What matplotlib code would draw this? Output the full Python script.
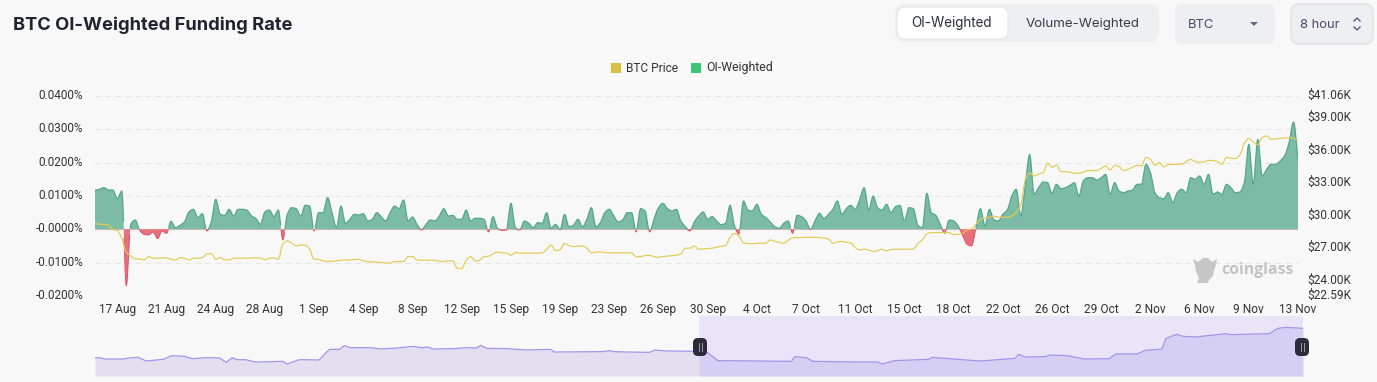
import matplotlib
matplotlib.use("Agg")
import matplotlib.pyplot as plt
import numpy as np
from matplotlib.patches import FancyBboxPatch, Polygon, Rectangle
from matplotlib.transforms import ScaledTranslation

# funding rate in %, one value per 8 hour period
funding_rate = np.array([
    117, 120, 125, 118, 118, 92, 115, -170, 15, 28,
    -3, -15, -17, -8, -28, -5, -12, 24, 5, 12,
    22, 52, 60, 35, 47, -5, 22, 90, 45, 42,
    60, 40, 60, 60, 57, 40, 32, 15, 52, 58,
    38, 58, -32, 45, 65, 62, 40, 72, 70, -5,
    50, 50, 95, 50, 5, 70, 18, 30, 45, 43,
    47, 25, 30, 50, 38, 25, 50, 70, 62, 88,
    25, 37, 15, -2, 15, 28, 25, 40, 62, 40,
    42, 30, 30, 58, 25, 33, 33, 30, -8, 38,
    3, -3, -2, 78, 5, -2, 25, 18, 5, 20,
    18, 50, 3, 15, -1, 45, 8, 12, 30, 8,
    30, 65, 8, 20, 50, 60, 40, 22, 28, 50,
    50, -8, 62, 55, -8, 30, 65, 78, 62, 55,
    60, 25, 8, -5, 22, 40, 52, 30, 38, 25,
    14, 18, 72, 10, -14, 85, 58, 55, 75, 45,
    35, 22, 8, 3, 18, 25, -12, 42, 38, 25,
    -1, 25, 48, 32, 45, 60, 85, 45, 62, 72,
    60, 90, 125, 58, 100, 65, 58, 75, 50, 68,
    72, 25, 65, 62, 12, 5, 108, 50, 42, 15,
    -12, 28, 25, 10, -18, -45, -50, 5, 62, 10,
    60, 28, 25, 45, 58, 100, 120, 40, 130, 225,
    105, 125, 142, 140, 108, 135, 122, 125, 132, 140,
    100, 145, 155, 155, 148, 155, 165, 105, 140, 115,
    110, 115, 118, 135, 135, 195, 170, 110, 95, 92,
    110, 80, 110, 120, 110, 155, 150, 160, 135, 165,
    105, 112, 105, 135, 125, 110, 112, 140, 255, 135,
    270, 160, 180, 195, 195, 205, 220, 260, 322, 210,
]) / 10000

# BTC price in $K
btc_price = np.array([
    29.31, 29.21, 29.21, 29.15, 28.72, 28.63, 27.92, 26.60, 26.29, 26.01,
    26.01, 25.92, 26.23, 26.08, 26.08, 26.11, 26.11, 25.98, 25.92, 26.14,
    26.08, 25.92, 26.08, 26.08, 26.14, 26.48, 26.51, 25.98, 26.14, 25.92,
    25.92, 26.08, 26.08, 26.08, 26.08, 26.08, 26.11, 26.11, 25.92, 26.08,
    26.11, 25.98, 27.40, 27.68, 27.46, 27.21, 27.31, 27.28, 26.91, 25.98,
    25.98, 25.83, 25.80, 25.80, 25.83, 25.89, 25.92, 25.92, 25.95, 25.98,
    25.83, 25.77, 25.74, 25.74, 25.68, 25.65, 25.61, 25.77, 25.77, 25.77,
    26.23, 26.23, 25.92, 25.89, 25.89, 25.89, 25.89, 25.80, 25.77, 25.83,
    25.83, 25.15, 25.12, 25.92, 26.23, 25.83, 25.89, 26.23, 26.26, 26.48,
    26.66, 26.57, 26.57, 26.35, 26.60, 26.54, 26.54, 26.54, 26.54, 26.54,
    26.57, 26.91, 27.28, 26.78, 26.88, 27.43, 27.25, 27.15, 27.21, 27.21,
    27.00, 26.57, 26.63, 26.66, 26.60, 26.57, 26.57, 26.57, 26.57, 26.57,
    26.57, 26.23, 26.23, 26.32, 26.35, 26.23, 26.17, 26.23, 26.26, 26.32,
    26.35, 26.48, 27.00, 27.00, 27.21, 26.91, 26.94, 26.97, 27.00, 27.09,
    27.18, 27.25, 28.01, 28.35, 28.14, 27.49, 27.43, 27.40, 27.46, 27.46,
    27.46, 27.77, 27.64, 27.55, 27.46, 27.74, 27.98, 27.98, 27.98, 28.01,
    28.01, 28.01, 27.98, 27.95, 27.86, 27.46, 27.58, 27.64, 27.55, 27.49,
    27.06, 26.84, 26.91, 26.84, 26.69, 26.78, 26.91, 26.75, 26.88, 26.91,
    26.91, 26.91, 26.91, 26.94, 27.46, 27.77, 28.32, 28.44, 28.44, 28.44,
    28.47, 28.44, 28.26, 28.29, 28.38, 28.69, 28.78, 29.24, 29.67, 29.80,
    29.86, 29.95, 29.89, 29.86, 29.86, 29.98, 30.29, 31.00, 33.31, 33.95,
    33.67, 33.86, 33.98, 34.84, 34.48, 34.69, 34.08, 34.08, 34.01, 33.92,
    33.92, 34.05, 34.17, 34.17, 34.17, 34.38, 34.60, 34.23, 34.66, 34.54,
    34.17, 34.29, 34.48, 34.66, 34.60, 35.40, 35.21, 34.66, 34.91, 34.51,
    34.72, 34.75, 34.75, 34.78, 35.00, 35.21, 35.00, 34.97, 34.97, 35.12,
    35.09, 35.00, 34.75, 35.40, 35.31, 35.28, 35.62, 36.69, 37.12, 36.81,
    36.54, 37.24, 37.37, 37.06, 37.09, 37.15, 37.18, 37.21, 37.15, 37.00,
])

x_labels = [
    "17 Aug", "21 Aug", "24 Aug", "28 Aug", "1 Sep", "4 Sep", "8 Sep", "12 Sep", "15 Sep",
    "19 Sep", "23 Sep", "26 Sep", "30 Sep", "4 Oct", "7 Oct", "11 Oct", "15 Oct", "18 Oct",
    "22 Oct", "26 Oct", "29 Oct", "2 Nov", "6 Nov", "9 Nov", "13 Nov",
]
rate_ticks = [-0.02, -0.01, 0.0, 0.01, 0.02, 0.03, 0.04]
rate_labels = ["-0.0200%", "-0.0100%", "-0.0000%", "0.0100%", "0.0200%", "0.0300%", "0.0400%"]
price_ticks = [22.59, 24, 27, 30, 33, 36, 39, 41.06]
price_labels = ["$22.59K", "$24.00K", "$27.00K", "$30.00K", "$33.00K", "$36.00K", "$39.00K", "$41.06K"]

# overview strip under the chart: period and relative level
overview_period = [
    0, 1.1, 2.1, 6.3, 7.7, 9.6, 11.4, 15.2, 17.1, 19.9, 21.7, 25, 27.8, 29.2, 30.6, 31.6, 33.5, 35.8,
    41.9, 42.8, 45.2, 46.1, 49.9, 52.2, 54.5, 55.5, 56.9, 61.6, 63.4, 66.3, 70.9, 72.8, 74.2, 75.2,
    80.3, 82.2, 85, 85.9, 87.3, 91.6, 96.2, 101.4, 102.3, 113.1, 114.5, 115.5, 118.3, 123.4, 124.8,
    127.2, 134.5, 136.4, 138.7, 147.2, 155.1, 155.8, 158.4, 159.8, 169.7, 174.3, 175.3, 178.1, 185.6,
    186.5, 195, 197.3, 200.1, 204.8, 205.7, 207.1, 211.4, 212.8, 216.5, 220.3, 225.9, 227.3, 232,
    233.9, 237.6, 238.5, 240.9, 242.3, 245.1, 251.7, 253, 261.5, 263.4, 265.2, 269,
]
overview_level = [
    30, 30.6, 28.3, 28.3, 30, 31.1, 25, 27.8, 33.9, 32.8, 28.9, 30.6, 30, 22.8, 30.6, 27.2, 27.2, 23.3,
    24.4, 20, 26.7, 27.2, 26.7, 44.4, 44.4, 50.6, 47.2, 47.2, 45, 46.1, 49.4, 47.2, 48.3, 45,
    45.6, 47.2, 46.7, 51.1, 46.1, 45.6, 43.3, 44.4, 40, 40.6, 42.2, 40.6, 40, 39.4, 43.3,
    41.7, 41.1, 38.9, 25.6, 25, 24.4, 32.2, 30.6, 24.4, 23.3, 23.3, 20, 25.6, 27.8,
    31.1, 26.1, 25, 26.7, 29.4, 36.1, 31.7, 32.2, 35, 33.9, 28.3, 28.9, 36.7, 36.7,
    42.8, 45, 62.8, 69.4, 66.1, 65, 70.6, 68.9, 70.6, 79.4, 81.1, 79.4,
]
selection_start = 134.5

BG = "#f8f8f8"
W, H = 1377, 382


def px_rect(left, top, right, bottom):
    return [left / W, 1 - bottom / H, (right - left) / W, (bottom - top) / H]


def round_box(axis, left, top, right, bottom, radius, color, edge="none", z=2):
    axis.add_patch(FancyBboxPatch(
        (left + radius, top + radius), right - left - 2 * radius, bottom - top - 2 * radius,
        boxstyle=f"round,pad={radius},rounding_size={radius}",
        facecolor=color, edgecolor=edge, linewidth=0.8, zorder=z,
    ))


def smooth_curve(values, steps=8):
    """monotone cubic between the 8 hour values, the chart draws a smoothed line"""
    slopes = np.diff(values)
    tangents = np.zeros(len(values))
    same_sign = slopes[:-1] * slopes[1:] > 0
    tangents[1:-1][same_sign] = (
        2 * slopes[:-1][same_sign] * slopes[1:][same_sign] / (slopes[:-1][same_sign] + slopes[1:][same_sign])
    )
    tangents[0], tangents[-1] = slopes[0], slopes[-1]
    t = np.linspace(0, 1, steps, endpoint=False)[:, None]
    start, end = values[:-1], values[1:]
    curve = (
        (2 * t**3 - 3 * t**2 + 1) * start + (t**3 - 2 * t**2 + t) * tangents[:-1]
        + (-2 * t**3 + 3 * t**2) * end + (t**3 - t**2) * tangents[1:]
    )
    dense_y = np.append(curve.T.ravel(), values[-1])
    dense_x = np.linspace(0, len(values) - 1, len(dense_y))
    return dense_x, dense_y


fig = plt.figure(figsize=(W / 100, H / 100), dpi=100, facecolor=BG)

# page overlay in pixel coordinates, for title and controls
page = fig.add_axes([0, 0, 1, 1], zorder=5)
page.set_xlim(0, W)
page.set_ylim(H, 0)
page.axis("off")

page.text(13, 25, "BTC OI-Weighted Funding Rate", family="Inter", fontsize=13.2, fontweight="bold",
          color="#1f2430", va="center")

round_box(page, 895, 4, 1159, 42, 10, "#eeeff3")
round_box(page, 897, 7, 1008, 39, 8, "white", edge="#e6e6ea", z=3)
page.text(952, 23.5, "OI-Weighted", family="Inter", fontsize=9.7, color="#2b2f3a", ha="center", va="center", zorder=4)
page.text(1083, 23.5, "Volume-Weighted", family="Inter", fontsize=9.6, color="#3a3d48", ha="center", va="center", zorder=4)
round_box(page, 1175, 4, 1275, 44, 8, "#eeeff3")
page.text(1188, 24.5, "BTC", family="Inter", fontsize=9.4, color="#4f4668", va="center", zorder=4)
page.add_patch(Polygon([[1250, 22], [1258, 22], [1254, 26]], closed=True, facecolor="#6b6480", zorder=4))
round_box(page, 1291, 4, 1373, 44, 8, "#eeeff3", edge="#dfe0e5")
page.text(1300, 24.5, "8 hour", family="Inter", fontsize=9.4, color="#4f4668", va="center", zorder=4)
page.plot([1354, 1357, 1360], [21, 18, 21], color="#5f5878", linewidth=1, zorder=4)
page.plot([1354, 1357, 1360], [27, 30, 27], color="#5f5878", linewidth=1, zorder=4)

page.add_patch(Rectangle((611, 63), 10, 10, facecolor="#d8bf45"))
page.text(626, 68, "BTC Price", family="Roboto", fontsize=8.6, color="#333333", va="center")
page.add_patch(Rectangle((691, 63), 10, 10, facecolor="#3fc47a"))
page.text(706, 68, "OI-Weighted", family="Roboto", fontsize=8.8, color="#333333", va="center")

# watermark
page.add_patch(Polygon(
    [[1193, 259], [1198, 262], [1203, 258], [1208, 258], [1212, 262], [1217, 259], [1216, 265], [1214, 270],
     [1213, 276], [1209, 280], [1208, 283], [1197, 283], [1199, 278], [1196, 272], [1195, 265]],
    closed=True, facecolor="#c6c6c6", edgecolor="none",
))
page.text(1221, 270, "coinglass", family="Open Sans", fontsize=11.3, fontweight="bold", color="#c4c4c4", va="center")

# main chart
ax = fig.add_axes(px_rect(95, 96, 1298, 296), facecolor="none")
x, rate_curve = smooth_curve(funding_rate)
ax.fill_between(x, rate_curve, 0, where=rate_curve >= 0, interpolate=True, color="#7cbba5", linewidth=0, zorder=2)
ax.fill_between(x, rate_curve, 0, where=rate_curve <= 0, interpolate=True, color="#e5717c", linewidth=0, zorder=2)
ax.plot(x, np.where(rate_curve >= 0, rate_curve, np.nan), color="#55a78c", linewidth=0.9, zorder=3)
ax.plot(x, np.where(rate_curve < 0, rate_curve, np.nan), color="#e2505f", linewidth=0.7, zorder=3)
ax.axhline(0, color="#eeb9b9", linewidth=0.8, zorder=1.5)

ax.set_xlim(0, len(funding_rate) - 1)
ax.set_ylim(-0.02, 0.04)
ax.set_yticks(rate_ticks, rate_labels)
ax.set_xticks(np.arange(5, 270, 11), x_labels)
ax.tick_params(axis="y", length=0, labelsize=8.5, labelcolor="#333333", pad=8.5)
ax.tick_params(axis="x", length=0, labelsize=8.6, labelcolor="#333333", pad=5)
# the y labels sit 2 px above their grid line
label_shift = ScaledTranslation(0, 2 / 100, fig.dpi_scale_trans)
for lab in ax.get_xticklabels() + ax.get_yticklabels():
    lab.set_family("Roboto")
for lab in ax.get_yticklabels():
    lab.set_transform(lab.get_transform() + label_shift)
ax.grid(axis="y", color="#e6e6e6", linestyle=(0, (5, 4)), linewidth=0.8, zorder=0)
ax.set_axisbelow(True)
for spine in ax.spines.values():
    spine.set_visible(False)

price_ax = ax.twinx()
price_x, price_curve = smooth_curve(btc_price)
price_ax.plot(price_x, price_curve, color="#e3cc53", linewidth=0.85, zorder=4)
price_ax.set_ylim(22.59, 41.06)
price_ax.set_yticks(price_ticks, price_labels)
price_ax.tick_params(axis="y", length=0, labelsize=8.6, labelcolor="#333333", pad=7)
for lab in price_ax.get_yticklabels():
    lab.set_family("Roboto")
    lab.set_transform(lab.get_transform() + label_shift)
for spine in price_ax.spines.values():
    spine.set_visible(False)

# overview strip
strip = fig.add_axes(px_rect(95, 316, 1303, 376), facecolor="none")
strip.set_xlim(0, 269)
strip.set_ylim(0, 100)
strip.axis("off")
period = np.array(overview_period)
level = np.array(overview_level)
strip.axvspan(selection_start, 269, color="#ebe4f8", linewidth=0, zorder=1)
strip.fill_between(period, level, 0, where=period <= selection_start, color="#e4dff0", linewidth=0, zorder=2)
strip.fill_between(period, level, 0, where=period >= selection_start, color="#d6cff4", linewidth=0, zorder=2)
strip.plot(period, level, color="#a294ea", linewidth=0.9, zorder=3)

# slider handles
for hx in (700, 1302):
    round_box(page, hx - 7, 338, hx + 7, 356, 5, "#2b2b3a", z=6)
    page.plot([hx - 1.5, hx - 1.5], [343, 351], color="#9a9aa8", linewidth=0.7, zorder=7)
    page.plot([hx + 1.5, hx + 1.5], [343, 351], color="#9a9aa8", linewidth=0.7, zorder=7)

fig.savefig("out.png", dpi=100, facecolor=BG)
